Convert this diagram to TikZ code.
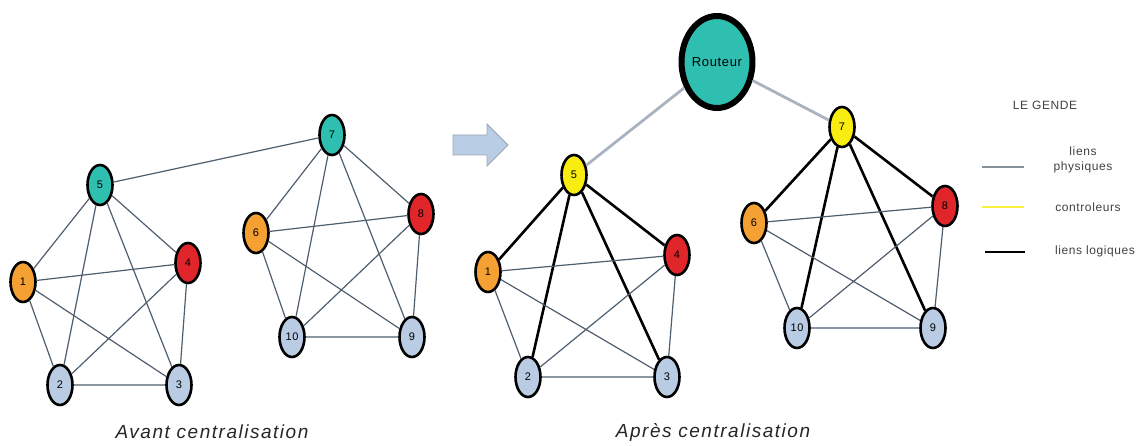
\documentclass[tikz,border=0pt]{standalone}
\usepackage{fontspec}
\setmainfont{Liberation Sans}
\newfontfamily\lblfont[LetterSpace=5]{Liberation Sans}
\newfontfamily\capfont[LetterSpace=8]{Liberation Sans}
\usetikzlibrary{shapes.geometric}
\definecolor{turq}{HTML}{2FBFB1}
\definecolor{orng}{HTML}{F5A033}
\definecolor{rouge}{HTML}{E0262A}
\definecolor{bleu}{HTML}{B9CCE4}
\definecolor{jaune}{HTML}{F8EC10}
\definecolor{gris}{HTML}{4E5E6E}
\definecolor{grisclair}{HTML}{A9B3BF}
\definecolor{fleche}{HTML}{B9CDE5}
\tikzset{nd/.style = {ellipse, draw=black, line width=2.6pt, minimum width=25pt,
                      minimum height=40pt, inner sep=0,
                      font=\lblfont\fontsize{11}{11}\selectfont}}
\tikzset{phys/.style = {draw=gris, line width=1.2pt}}
\tikzset{logi/.style = {draw=black, line width=2.6pt}}
\tikzset{rout/.style = {draw=grisclair, line width=2.8pt}}
\tikzset{legtxt/.style = {font=\lblfont\fontsize{12}{13}\selectfont, text=black!75, align=center}}

\begin{document}
\begin{tikzpicture}[x=1pt, y=-1pt]
      \useasboundingbox (0, 0) rectangle (1145, 446);

      % avant centralisation
      \node [nd, fill=turq]  (a5)  at (100, 185) {5};
      \node [nd, fill=turq]  (a7)  at (332, 135) {7};
      \node [nd, fill=orng]  (a1)  at (23, 282)  {1};
      \node [nd, fill=rouge] (a4)  at (188, 263) {4};
      \node [nd, fill=bleu]  (a2)  at (60, 385)  {2};
      \node [nd, fill=bleu]  (a3)  at (179, 385) {3};
      \node [nd, fill=orng]  (a6)  at (256, 233) {6};
      \node [nd, fill=rouge] (a8)  at (421, 214) {8};
      \node [nd, fill=bleu]  (a10) at (292, 337) {10};
      \node [nd, fill=bleu]  (a9)  at (412, 337) {9};

      \draw [phys] (a5) -- (a7);
      \draw [phys] (a5) -- (a1) (a5) -- (a2) (a5) -- (a3) (a5) -- (a4);
      \draw [phys] (a1) -- (a4) (a1) -- (a2) (a1) -- (a3)
                   (a4) -- (a2) (a4) -- (a3) (a2) -- (a3);
      \draw [phys] (a7) -- (a6) (a7) -- (a10) (a7) -- (a9) (a7) -- (a8);
      \draw [phys] (a6) -- (a8) (a6) -- (a10) (a6) -- (a9)
                   (a8) -- (a10) (a8) -- (a9) (a10) -- (a9);

      \draw [draw=fleche!70!black!80, fill=fleche, line width=0.8pt, line join=miter]
            (453, 135) -- (487, 135) -- (487, 124) -- (508, 145)
            -- (487, 166) -- (487, 155) -- (453, 155) -- cycle;

      % apres centralisation
      \node [nd, fill=turq, minimum width=64pt, minimum height=92pt, line width=6pt,
             font=\lblfont\fontsize{13}{13}\selectfont] (r) at (717, 62) {Routeur};
      \node [nd, fill=jaune] (b5)  at (574, 175) {5};
      \node [nd, fill=jaune] (b7)  at (842, 127) {7};
      \node [nd, fill=orng]  (b1)  at (488, 272) {1};
      \node [nd, fill=rouge] (b4)  at (677, 255) {4};
      \node [nd, fill=bleu]  (b2)  at (528, 377) {2};
      \node [nd, fill=bleu]  (b3)  at (667, 377) {3};
      \node [nd, fill=orng]  (b6)  at (754, 223) {6};
      \node [nd, fill=rouge] (b8)  at (945, 206) {8};
      \node [nd, fill=bleu]  (b10) at (797, 328) {10};
      \node [nd, fill=bleu]  (b9)  at (933, 328) {9};

      \draw [rout] (r) -- (b5) (r) -- (b7);
      \draw [logi] (b5) -- (b1) (b5) -- (b2) (b5) -- (b3) (b5) -- (b4);
      \draw [logi] (b7) -- (b6) (b7) -- (b10) (b7) -- (b9) (b7) -- (b8);
      \draw [phys] (b1) -- (b4) (b1) -- (b2) (b1) -- (b3)
                   (b4) -- (b2) (b4) -- (b3) (b2) -- (b3);
      \draw [phys] (b6) -- (b8) (b6) -- (b10) (b6) -- (b9)
                   (b8) -- (b10) (b8) -- (b9) (b10) -- (b9);

      % legende
      \node [legtxt] (leg) at (1045, 105) {LE GENDE};
      \coordinate (p1) at (982, 167);
      \coordinate (p2) at (1024, 167);
      \draw [draw=grisclair!80!black, line width=2.6pt] (p1) -- (p2);
      \node [legtxt] (lp) at (1083, 160) {liens\\[2pt]physiques};
      \coordinate (c1) at (982, 207);
      \coordinate (c2) at (1024, 207);
      \draw [draw=jaune!80!white, line width=2.6pt] (c1) -- (c2);
      \node [legtxt] (lc) at (1088, 207) {controleurs};
      \coordinate (l1) at (985, 252);
      \coordinate (l2) at (1025, 252);
      \draw [draw=black, line width=2.6pt] (l1) -- (l2);
      \node [legtxt] (ll) at (1095, 251) {liens logiques};

      \node [font=\capfont\itshape\fontsize{19}{19}\selectfont, text=black!85] (cap1) at (212, 432) {Avant centralisation};
      \node [font=\capfont\itshape\fontsize{19}{19}\selectfont, text=black!85] (cap2) at (713, 432) {Après centralisation};
\end{tikzpicture}
\end{document}
